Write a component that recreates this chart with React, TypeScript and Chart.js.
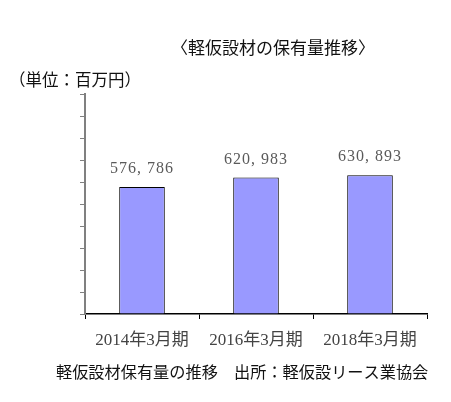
import React, { useEffect, useRef } from "react";
import { Chart, registerables } from "chart.js";

Chart.register(...registerables);

const categories = ["2014年3月期", "2016年3月期", "2018年3月期"];
const values = [576786, 620983, 630893];
const valueLabels = ["576, 786", "620, 983", "630, 893"];
const titleText = "〈軽仮設材の保有量推移〉";
const unitText = "（単位：百万円）";
const footerText = "軽仮設材保有量の推移　出所：軽仮設リース業協会";

const JP = '"Noto Sans CJK JP", "Noto Sans", sans-serif';
const SERIF_JP = '"Liberation Serif", "Noto Sans CJK JP", serif';

const textPlugin = {
  id: "textPlugin",
  afterDraw(chart: any) {
    const ctx = chart.ctx;
    ctx.save();
    // bar value labels
    const meta = chart.getDatasetMeta(0);
    ctx.font = `16px ${SERIF_JP}`;
    ctx.fillStyle = "#5a5a5a";
    ctx.textAlign = "center";
    ctx.textBaseline = "middle";
    try {
      (ctx as any).letterSpacing = "1px";
    } catch (e) {}
    meta.data.forEach((bar: any, i: number) => {
      ctx.fillText(valueLabels[i], bar.x, bar.y - 18);
    });
    try {
      (ctx as any).letterSpacing = "0px";
    } catch (e) {}
    // title
    ctx.font = `17px ${JP}`;
    ctx.fillStyle = "#111111";
    ctx.textAlign = "center";
    ctx.fillText(titleText, 273, 48);
    // unit
    ctx.font = `16.5px ${JP}`;
    ctx.textAlign = "left";
    ctx.fillText(unitText, 9, 80);
    // footer
    ctx.font = `16.2px ${JP}`;
    ctx.fillText(footerText, 56, 372);
    ctx.restore();
  },
};

export default function App() {
  const ref = useRef<HTMLCanvasElement>(null);
  useEffect(() => {
    if (!ref.current) return;
    const chart = new Chart(ref.current, {
      type: "bar",
      data: {
        labels: categories,
        datasets: [
          {
            data: values,
            backgroundColor: "#9999ff",
            borderColor: "#000000",
            borderWidth: 1,
            barPercentage: 0.4,
            categoryPercentage: 1,
          },
        ],
      },
      options: {
        animation: false,
        responsive: true,
        maintainAspectRatio: false,
        layout: { padding: { top: 94, left: 75, right: 24, bottom: 0 } },
        plugins: {
          legend: { display: false },
          tooltip: { enabled: false },
        },
        scales: {
          x: {
            grid: {
              drawOnChartArea: false,
              tickLength: 5,
              color: "#000000",
              offset: true,
            },
            border: { color: "#000000", width: 1.5 },
            ticks: {
              font: { size: 17, family: SERIF_JP },
              color: "#444444",
              padding: 11,
              maxRotation: 0,
            },
            afterFit: (s: any) => {
              s.height = 88;
            },
          },
          y: {
            min: 0,
            max: 1000000,
            ticks: { display: false, stepSize: 100000 },
            grid: {
              drawOnChartArea: false,
              tickLength: 5,
              color: "#808080",
            },
            border: { color: "#808080", width: 2 },
            afterFit: (s: any) => {
              s.width = 10;
            },
          },
        },
      },
      plugins: [textPlugin],
    });
    return () => chart.destroy();
  }, []);
  return (
    <div style={{ position: "fixed", left: 0, top: 0, width: 451, height: 402, background: "#fff" }}>
      <canvas ref={ref} />
    </div>
  );
}
